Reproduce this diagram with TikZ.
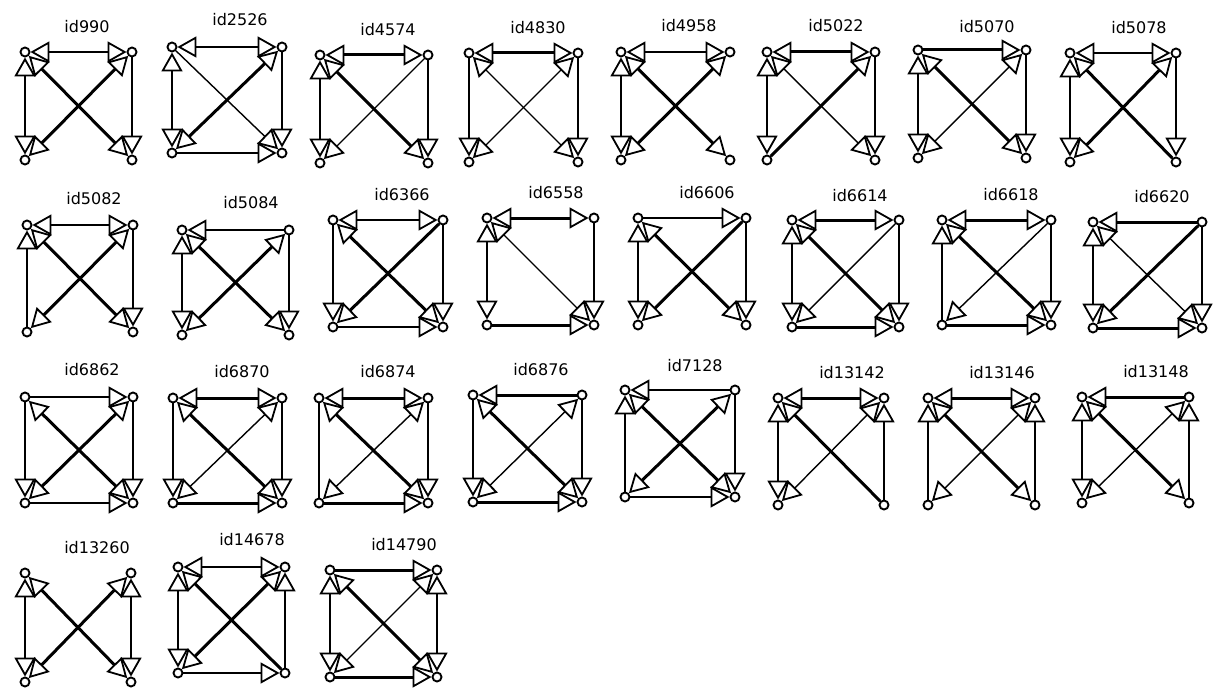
\documentclass[tikz,border=0pt]{standalone}
\usepackage{fontspec}
\setmainfont{DejaVu Sans}
\usetikzlibrary{arrows.meta}

\tikzset{
  vx/.style={shape=circle,draw,line width=1.9pt,inner sep=0pt,minimum size=9pt},
  lbl/.style={font=\fontsize{16}{16}\selectfont,inner sep=0pt},
  weak/.style={line width=1.4pt},
  strong/.style={line width=3pt},
}

% one motif: name, title, title x, title y, left x, right x, top y, bottom y
\newcommand{\motif}[8]{%
  \node[lbl] (#1-t) at (#3,#4) {#2};
  \node[vx] (#1-a) at (#5,#7) {};
  \node[vx] (#1-b) at (#6,#7) {};
  \node[vx] (#1-c) at (#5,#8) {};
  \node[vx] (#1-d) at (#6,#8) {};
}

\begin{document}
\begin{tikzpicture}[x=1pt,y=-1pt,>={Triangle[open,length=19pt,width=21pt,line width=1.8pt]}]
  \useasboundingbox (0,0) rectangle (1213,690);

  % row 1
  \motif{m990}{id990}{87}{27}{25}{132}{52}{160}
  \foreach \u/\v/\w/\h in {a/b/weak/<->, a/c/weak/<->, b/d/weak/->, a/d/strong/<->, b/c/strong/<->}
    \draw[\w,\h] (m990-\u) -- (m990-\v);
  \motif{m2526}{id2526}{240}{20}{172}{282}{47}{153}
  \foreach \u/\v/\w/\h in {a/b/weak/<->, a/c/weak/<->, b/d/weak/->, c/d/weak/->, a/d/weak/->, b/c/strong/<->}
    \draw[\w,\h] (m2526-\u) -- (m2526-\v);
  \motif{m4574}{id4574}{388}{30}{320}{428}{55}{163}
  \foreach \u/\v/\w/\h in {a/b/strong/<->, a/c/weak/<->, b/d/weak/->, a/d/strong/<->, b/c/weak/->}
    \draw[\w,\h] (m4574-\u) -- (m4574-\v);
  \motif{m4830}{id4830}{538}{28}{469}{578}{53}{162}
  \foreach \u/\v/\w/\h in {a/b/strong/<->, a/c/weak/->, b/d/weak/->, a/d/weak/<->, b/c/weak/<->}
    \draw[\w,\h] (m4830-\u) -- (m4830-\v);
  \motif{m4958}{id4958}{689}{26}{621}{730}{52}{160}
  \foreach \u/\v/\w/\h in {a/b/weak/<->, a/c/weak/<->, a/d/strong/<->, b/c/strong/<->}
    \draw[\w,\h] (m4958-\u) -- (m4958-\v);
  \motif{m5022}{id5022}{836}{26}{767}{875}{52}{160}
  \foreach \u/\v/\w/\h in {a/b/strong/<->, a/c/weak/<->, b/d/weak/->, a/d/weak/<->, c/b/strong/->}
    \draw[\w,\h] (m5022-\u) -- (m5022-\v);
  \motif{m5070}{id5070}{987}{27}{918}{1026}{50}{158}
  \foreach \u/\v/\w/\h in {a/b/strong/->, a/c/weak/<->, b/d/weak/->, a/d/strong/<->, b/c/weak/<->}
    \draw[\w,\h] (m5070-\u) -- (m5070-\v);
  \motif{m5078}{id5078}{1139}{28}{1070}{1176}{53}{162}
  \foreach \u/\v/\w/\h in {a/b/weak/<->, a/c/weak/<->, b/d/weak/->, d/a/strong/->, b/c/strong/<->}
    \draw[\w,\h] (m5078-\u) -- (m5078-\v);

  % row 2
  \motif{m5082}{id5082}{94}{199}{27}{133}{225}{332}
  \foreach \u/\v/\w/\h in {a/b/weak/<->, c/a/weak/->, b/d/weak/->, a/d/strong/<->, b/c/strong/<->}
    \draw[\w,\h] (m5082-\u) -- (m5082-\v);
  \motif{m5084}{id5084}{251}{203}{182}{289}{230}{335}
  \foreach \u/\v/\w/\h in {b/a/weak/->, a/c/weak/<->, b/d/weak/->, a/d/strong/<->, b/c/strong/<->}
    \draw[\w,\h] (m5084-\u) -- (m5084-\v);
  \motif{m6366}{id6366}{402}{195}{333}{443}{220}{327}
  \foreach \u/\v/\w/\h in {a/b/weak/<->, a/c/weak/->, b/d/weak/->, c/d/weak/->, a/d/strong/<->, b/c/strong/->}
    \draw[\w,\h] (m6366-\u) -- (m6366-\v);
  \motif{m6558}{id6558}{556}{193}{487}{594}{218}{325}
  \foreach \u/\v/\w/\h in {a/b/strong/<->, a/c/weak/<->, b/d/weak/->, c/d/strong/->, a/d/weak/<->}
    \draw[\w,\h] (m6558-\u) -- (m6558-\v);
  \motif{m6606}{id6606}{707}{193}{638}{746}{218}{325}
  \foreach \u/\v/\w/\h in {a/b/weak/->, a/c/weak/<->, b/d/weak/->, a/d/strong/<->, b/c/strong/->}
    \draw[\w,\h] (m6606-\u) -- (m6606-\v);
  \motif{m6614}{id6614}{860}{196}{792}{899}{220}{327}
  \foreach \u/\v/\w/\h in {a/b/strong/<->, a/c/weak/<->, b/d/weak/->, c/d/strong/->, a/d/strong/<->, b/c/weak/->}
    \draw[\w,\h] (m6614-\u) -- (m6614-\v);
  \motif{m6618}{id6618}{1011}{195}{942}{1051}{220}{325}
  \foreach \u/\v/\w/\h in {a/b/strong/<->, c/a/weak/->, b/d/weak/->, c/d/strong/->, a/d/strong/<->, b/c/weak/->}
    \draw[\w,\h] (m6618-\u) -- (m6618-\v);
  \motif{m6620}{id6620}{1162}{197}{1093}{1202}{222}{328}
  \foreach \u/\v/\w/\h in {b/a/strong/->, a/c/weak/<->, b/d/weak/->, c/d/strong/->, a/d/weak/<->, b/c/strong/->}
    \draw[\w,\h] (m6620-\u) -- (m6620-\v);

  % row 3
  \motif{m6862}{id6862}{92}{370}{25}{133}{397}{503}
  \foreach \u/\v/\w/\h in {a/b/weak/->, a/c/weak/->, b/d/weak/->, c/d/weak/->, a/d/strong/<->, b/c/strong/<->}
    \draw[\w,\h] (m6862-\u) -- (m6862-\v);
  \motif{m6870}{id6870}{242}{372}{173}{282}{398}{503}
  \foreach \u/\v/\w/\h in {a/b/strong/<->, a/c/weak/->, b/d/weak/->, c/d/strong/->, a/d/strong/<->, b/c/weak/<->}
    \draw[\w,\h] (m6870-\u) -- (m6870-\v);
  \motif{m6874}{id6874}{388}{372}{319}{428}{398}{503}
  \foreach \u/\v/\w/\h in {a/b/strong/<->, a/c/weak/-, b/d/weak/->, c/d/strong/->, a/d/strong/<->, b/c/weak/<->}
    \draw[\w,\h] (m6874-\u) -- (m6874-\v);
  \motif{m6876}{id6876}{541}{370}{473}{582}{395}{502}
  \foreach \u/\v/\w/\h in {b/a/strong/->, a/c/weak/->, b/d/weak/->, c/d/strong/->, a/d/strong/<->, b/c/weak/<->}
    \draw[\w,\h] (m6876-\u) -- (m6876-\v);
  \motif{m7128}{id7128}{695}{366}{625}{735}{390}{497}
  \foreach \u/\v/\w/\h in {b/a/weak/->, c/a/weak/->, b/d/weak/->, c/d/weak/->, a/d/strong/<->, b/c/strong/<->}
    \draw[\w,\h] (m7128-\u) -- (m7128-\v);
  \motif{m13142}{id13142}{852}{373}{778}{884}{398}{505}
  \foreach \u/\v/\w/\h in {a/b/strong/<->, a/c/weak/<->, d/b/weak/->, d/a/strong/->, b/c/weak/<->}
    \draw[\w,\h] (m13142-\u) -- (m13142-\v);
  \motif{m13146}{id13146}{1002}{373}{928}{1035}{398}{505}
  \foreach \u/\v/\w/\h in {a/b/strong/<->, c/a/weak/->, d/b/weak/->, a/d/strong/<->, b/c/weak/<->}
    \draw[\w,\h] (m13146-\u) -- (m13146-\v);
  \motif{m13148}{id13148}{1156}{372}{1082}{1189}{397}{503}
  \foreach \u/\v/\w/\h in {b/a/strong/->, a/c/weak/<->, d/b/weak/->, a/d/strong/<->, b/c/weak/<->}
    \draw[\w,\h] (m13148-\u) -- (m13148-\v);

  % row 4
  \motif{m13260}{id13260}{97}{548}{25}{131}{573}{682}
  \foreach \u/\v/\w/\h in {a/c/weak/<->, b/d/weak/<->, a/d/strong/<->, b/c/strong/<->}
    \draw[\w,\h] (m13260-\u) -- (m13260-\v);
  \motif{m14678}{id14678}{252}{540}{178}{285}{567}{673}
  \foreach \u/\v/\w/\h in {a/b/weak/<->, a/c/weak/<->, d/b/weak/->, c/d/weak/->, d/a/strong/->, b/c/strong/<->}
    \draw[\w,\h] (m14678-\u) -- (m14678-\v);
  \motif{m14790}{id14790}{404}{545}{330}{437}{570}{677}
  \foreach \u/\v/\w/\h in {a/b/strong/->, a/c/weak/<->, b/d/weak/<->, c/d/strong/->, a/d/strong/<->, b/c/weak/<->}
    \draw[\w,\h] (m14790-\u) -- (m14790-\v);
\end{tikzpicture}
\end{document}
